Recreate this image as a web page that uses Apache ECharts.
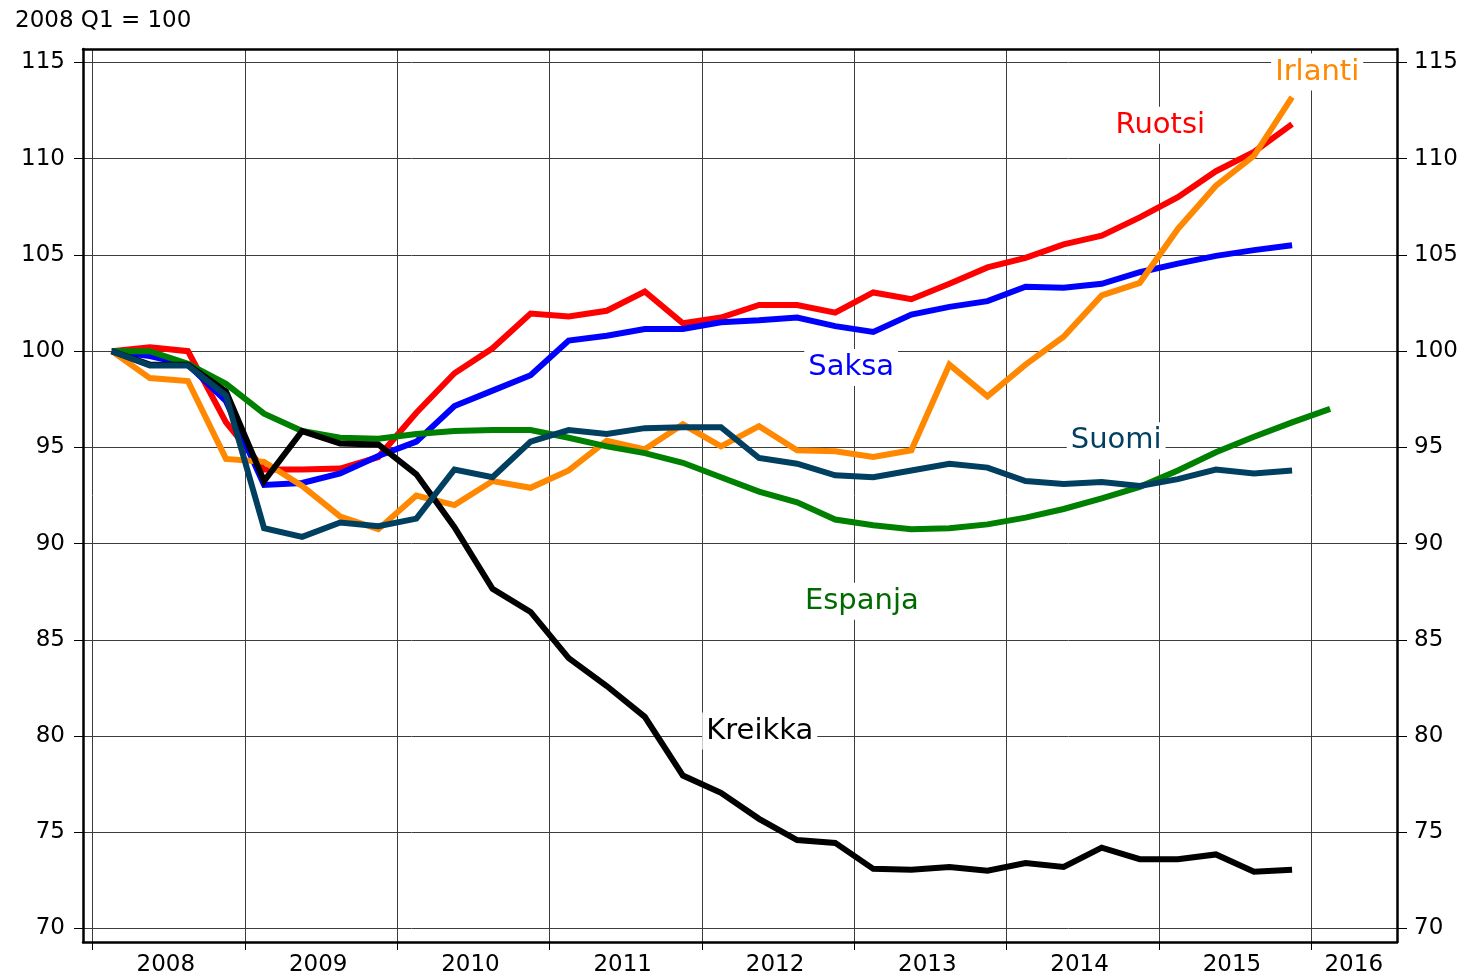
<!DOCTYPE html>
<html>
<head>
<meta charset="utf-8">
<script src="https://cdn.jsdelivr.net/npm/echarts@6/dist/echarts.min.js"></script>
<style>
html, body { margin: 0; padding: 0; background: #fff; }
#main { width: 1470px; height: 977px; }
</style>
</head>
<body>
<div id="main"></div>
<script>
// quarterly data, 2008Q1 = 100
var firstYear = 2008;
var yearTicks = [2008, 2009, 2010, 2011, 2012, 2013, 2014, 2015, 2016];
var yearLabels = [2008.48, 2009.48, 2010.48, 2011.48, 2012.48, 2013.48, 2014.48, 2015.48, 2016.28];
var valueTicks = [70, 75, 80, 85, 90, 95, 100, 105, 110, 115];

var ruotsi = [100, 100.2, 100.0, 96.3, 93.85, 93.85, 93.9, 94.5, 96.8, 98.85, 100.15, 101.95, 101.8, 102.1, 103.1, 101.45,
  101.75, 102.4, 102.4, 102.0, 103.05, 102.7, 103.5, 104.35, 104.85, 105.55, 106.0, 106.95, 108.0, 109.35, 110.35, 111.8];
var saksa = [100, 99.75, 99.3, 97.4, 93.05, 93.15, 93.65, 94.55, 95.3, 97.15, 97.95, 98.75, 100.55, 100.8, 101.15, 101.15,
  101.5, 101.6, 101.75, 101.3, 101.0, 101.9, 102.3, 102.6, 103.35, 103.3, 103.5, 104.1, 104.55, 104.95, 105.25, 105.5];
var irlanti = [100, 98.6, 98.45, 94.4, 94.25, 93.0, 91.4, 90.75, 92.5, 92.0, 93.25, 92.9, 93.8, 95.35, 94.9, 96.2,
  95.05, 96.1, 94.85, 94.8, 94.5, 94.85, 99.3, 97.65, 99.3, 100.75, 102.9, 103.55, 106.35, 108.6, 110.15, 113.2];
var espanja = [100, 100.0, 99.35, 98.3, 96.75, 95.85, 95.5, 95.45, 95.7, 95.85, 95.9, 95.9, 95.5, 95.05, 94.7, 94.2,
  93.45, 92.7, 92.15, 91.25, 90.95, 90.75, 90.8, 91.0, 91.35, 91.8, 92.35, 92.95, 93.8, 94.75, 95.55, 96.3, 97.0];
var kreikka = [100, 99.3, 99.3, 97.9, 93.25, 95.85, 95.2, 95.15, 93.6, 90.85, 87.65, 86.45, 84.05, 82.6, 81.0, 77.95,
  77.05, 75.7, 74.6, 74.45, 73.1, 73.05, 73.2, 73.0, 73.4, 73.2, 74.2, 73.6, 73.6, 73.85, 72.95, 73.05];
var suomi = [100, 99.25, 99.25, 97.7, 90.8, 90.35, 91.1, 90.9, 91.3, 93.85, 93.45, 95.3, 95.9, 95.7, 96.0, 96.05,
  96.05, 94.45, 94.15, 93.55, 93.45, 93.8, 94.15, 93.95, 93.25, 93.1, 93.2, 93.0, 93.35, 93.85, 93.65, 93.8];

function toPoints(values) {
  return values.map(function (v, i) {
    return [firstYear + (i + 0.5) / 4, v];
  });
}

var fontFamily = '"DejaVu Sans", sans-serif';

function makeSeries(name, values, color, labelColor, labelAt, z) {
  return {
    name: name,
    type: 'line',
    data: toPoints(values),
    showSymbol: false,
    symbol: 'none',
    z: z,
    lineStyle: { color: color, width: 6, join: 'miter', cap: 'butt' },
    markPoint: {
      symbol: 'rect',
      symbolSize: 1,
      silent: true,
      itemStyle: { color: 'rgba(0,0,0,0)' },
      label: {
        show: true,
        position: 'inside',
        formatter: name,
        color: labelColor,
        fontFamily: fontFamily,
        fontSize: 29,
        backgroundColor: '#fff',
        padding: [4, 4]
      },
      data: [{ coord: labelAt }]
    }
  };
}

var chart = echarts.init(document.getElementById('main'));
var option = {
  animation: false,
  backgroundColor: '#fff',
  title: {
    text: '2008 Q1 = 100',
    left: 10,
    top: 5,
    textStyle: { fontFamily: fontFamily, fontSize: 23, fontWeight: 'normal', color: '#000' }
  },
  grid: { left: 83, right: 73, top: 49, bottom: 34 },
  xAxis: [{
    type: 'value',
    min: 2007.936,
    max: 2016.564,
    axisLine: { show: true, lineStyle: { color: '#000', width: 2.5 } },
    axisTick: { show: true, length: 8, customValues: yearTicks, lineStyle: { color: '#000', width: 1 } },
    axisLabel: {
      customValues: yearLabels,
      formatter: function (v) { return String(Math.floor(v)); },
      margin: 12,
      color: '#000',
      fontFamily: fontFamily,
      fontSize: 23
    },
    splitLine: { show: true, lineStyle: { color: '#3c3c3c', width: 1 } }
  }, {
    type: 'value',
    position: 'top',
    min: 2007.936,
    max: 2016.564,
    axisLine: { show: true, lineStyle: { color: '#000', width: 2.5 } },
    axisTick: { show: false },
    axisLabel: { show: false },
    splitLine: { show: false }
  }],
  yAxis: [{
    type: 'value',
    position: 'left',
    min: 69.3,
    max: 115.7,
    axisLine: { show: true, lineStyle: { color: '#000', width: 2.5 } },
    axisTick: { show: true, length: 9, customValues: valueTicks, lineStyle: { color: '#000', width: 1 } },
    axisLabel: { customValues: valueTicks, margin: 18, color: '#000', fontFamily: fontFamily, fontSize: 23 },
    splitLine: { show: true, lineStyle: { color: '#3c3c3c', width: 1 } }
  }, {
    type: 'value',
    position: 'right',
    min: 69.3,
    max: 115.7,
    axisLine: { show: true, lineStyle: { color: '#000', width: 2.5 } },
    axisTick: { show: true, length: 10, customValues: valueTicks, lineStyle: { color: '#000', width: 1 } },
    axisLabel: { customValues: valueTicks, margin: 17, color: '#000', fontFamily: fontFamily, fontSize: 23 },
    splitLine: { show: false }
  }],
  series: [
    makeSeries('Ruotsi', ruotsi, '#ff0000', '#ff0000', [2015.01, 111.74], 2),
    makeSeries('Saksa', saksa, '#0000ff', '#0000ff', [2012.98, 99.15], 3),
    makeSeries('Irlanti', irlanti, '#ff8800', '#ff8800', [2016.04, 114.5], 4),
    makeSeries('Espanja', espanja, '#008000', '#006a00', [2013.05, 87.0], 5),
    makeSeries('Kreikka', kreikka, '#000000', '#000000', [2012.38, 80.26], 6),
    makeSeries('Suomi', suomi, '#003f5f', '#003f5f', [2014.72, 95.35], 7)
  ]
};
chart.setOption(option);
</script>
</body>
</html>
